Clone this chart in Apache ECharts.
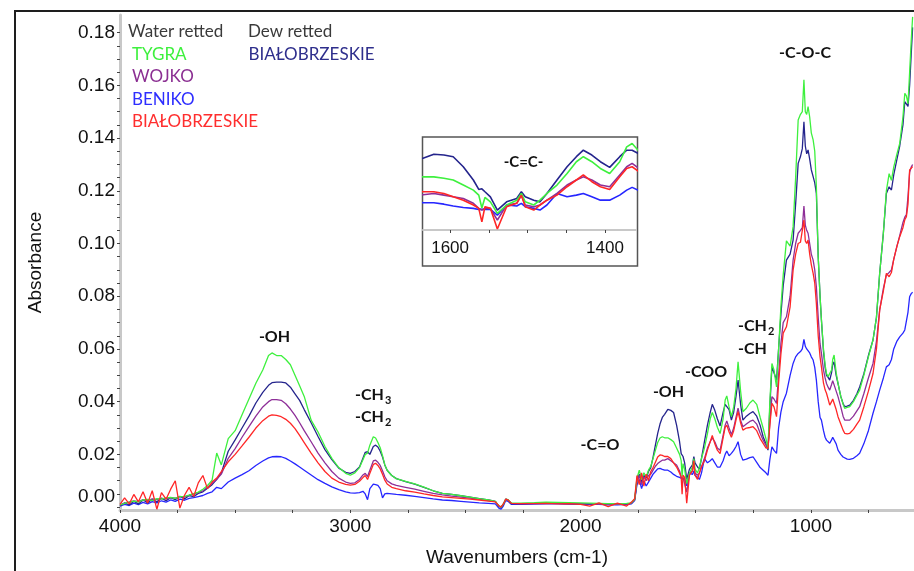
<!DOCTYPE html>
<html><head><meta charset="utf-8">
<script src="https://cdn.jsdelivr.net/npm/echarts@6/dist/echarts.min.js"></script>
<style>html,body{margin:0;padding:0;background:#fff}#c{width:914px;height:571px}</style>
</head><body><div id="c"></div>
<script>
// ---------- DATA (wavenumber grid, cm-1, descending) ----------
const wavenumbers = [
 4000,3980,3960,3940,3920,3900,3880,3860,3840,3820,3800,3780,3760,3740,3720,3700,3680,3660,3640,3620,3600,3580,3560,
 3530,3500,3470,3440,3410,3380,3355,3340,3320,3300,3280,3260,3240,3220,3200,3170,3140,3110,3080,3050,3020,3000,
 2980,2960,2945,2935,2925,2915,2900,2890,2880,2870,2860,2850,2840,2820,2800,2760,2720,2680,2640,2600,
 2560,2520,2480,2440,2400,2370,2355,2345,2335,2325,2315,2300,2260,2200,2150,2100,2050,2000,1960,1920,1880,1840,1800,1780,1765,
 1755,1745,1735,1725,1715,1705,1695,1685,1675,1665,1655,1645,1635,
 1621,1608,1596,1583,1570,1563,1559,1555,1548,1539,1527,1514,1508,1503,1492,1484,1475,1462,1449,1437,1428,1417,1406,1394,1381,1372,1365,
 1355,1345,1335,1325,1316,1305,1295,1280,1265,1251,1235,1220,1207,1195,1186,1178,1169,1160,1149,1140,
 1130,1120,1106,1090,1077,1066,1055,1045,1037,1030,1024,1018,1012,1005,998,990,983,976,968,960,
 954,945,938,932,925,918,910,905,899,890,882,870,860,853,842,831,815,800,788,770,
 750,730,715,701,685,672,660,650,640,626,614,600,592,585,578,571,564,558
];

// Water retted TYGRA (green)
const tygra = [
 .0008,.0014,.0019,.0023,.0020,.0027,.0029,.0025,.0032,.0030,.0035,.0037,.0033,.0040,.0041,.0045,.0051,.0057,.0068,.0082,.0102,.0205,.0160,
 .0260,.0290,.0350,.0410,.0470,.0520,.0575,.0585,.0575,.0575,.0560,.0540,.0500,.0460,.0420,.0330,.0285,.0230,.0185,.0150,.0128,.0121,
 .0130,.0150,.0180,.0200,.0205,.0235,.0267,.0262,.0245,.0225,.0195,.0160,.0140,.0120,.0108,.0098,.0088,.0076,.0062,.0052,
 .0048,.0043,.0038,.0032,.0027,.0022,.0005,.0000,.0012,.0030,.0028,.0015,.0015,.0017,.0019,.0018,.0017,.0016,.0015,.0014,.0013,.0013,.0014,.0016,.0030,
 .0110,.0140,.0105,.0130,.0115,.0140,.0155,.0185,.0215,.0245,.0262,.0267,.0263,
 .0263,.0256,.0248,.0224,.0200,.0176,.0115,.0165,.0144,.0089,.0129,.0152,.0184,.0144,.0129,.0152,.0184,.0224,.0279,.0335,.0359,.0335,.0303,.0279,.0335,.0406,.0422,
 .0380,.0343,.0380,.0450,.0551,.0440,.0362,.0375,.0395,.0406,.0390,.0340,.0299,.0260,.0223,.0400,.0545,.0520,.0456,.0600,
 .0760,.0880,.1010,.0990,.1064,.1250,.1469,.1490,.1500,.1621,.1500,.1490,.1519,.1480,.1420,.1393,.1350,.1216,.0950,.0800,
 .0710,.0600,.0540,.0507,.0495,.0488,.0520,.0560,.0577,.0510,.0469,.0420,.0390,.0375,.0378,.0381,.0400,.0425,.0444,.0500,
 .0570,.0634,.0720,.0887,.1040,.1200,.1265,.1240,.1290,.1340,.1380,.1480,.1570,.1560,.1530,.1650,.1770,.1860
];

// Dew retted BIAŁOBRZESKIE (navy)
const bialDew = [
 .0005,.0016,.0008,.0022,.0012,.0027,.0017,.0030,.0020,.0034,.0024,.0036,.0028,.0041,.0031,.0044,.0040,.0052,.0058,.0072,.0085,.0105,.0130,
 .0212,.0255,.0300,.0345,.0395,.0435,.0462,.0472,.0474,.0474,.0471,.0455,.0430,.0405,.0370,.0320,.0268,.0218,.0180,.0148,.0132,.0128,
 .0135,.0152,.0185,.0208,.0210,.0200,.0230,.0235,.0228,.0212,.0190,.0160,.0140,.0120,.0108,.0097,.0087,.0075,.0062,.0052,
 .0048,.0043,.0038,.0032,.0027,.0022,.0003,-.0002,.0010,.0030,.0026,.0013,.0013,.0014,.0015,.0014,.0013,.0012,.0012,.0011,.0011,.0011,.0012,.0014,.0028,
 .0100,.0125,.0095,.0120,.0110,.0135,.0150,.0190,.0235,.0280,.0315,.0340,.0352,
 .0371,.0367,.0359,.0311,.0248,.0203,.0206,.0192,.0168,.0105,.0144,.0160,.0192,.0168,.0152,.0144,.0184,.0248,.0311,.0359,.0390,.0367,.0335,.0308,.0359,.0390,.0390,
 .0370,.0330,.0360,.0420,.0482,.0390,.0330,.0345,.0355,.0362,.0345,.0310,.0267,.0240,.0216,.0380,.0532,.0510,.0482,.0600,
 .0730,.0840,.0937,.0960,.1013,.1150,.1304,.1330,.1360,.1462,.1370,.1340,.1355,.1320,.1280,.1254,.1230,.1190,.0950,.0800,
 .0710,.0590,.0530,.0500,.0492,.0482,.0510,.0540,.0551,.0500,.0469,.0420,.0393,.0381,.0383,.0387,.0405,.0430,.0456,.0505,
 .0575,.0634,.0720,.0887,.1040,.1190,.1215,.1203,.1260,.1320,.1370,.1450,.1538,.1540,.1520,.1600,.1720,.1820
];

// Water retted WOJKO (purple)
const wojko = [
 .0007,.0015,.0019,.0024,.0021,.0028,.0025,.0031,.0028,.0033,.0031,.0036,.0034,.0040,.0038,.0045,.0050,.0055,.0062,.0075,.0090,.0105,.0125,
 .0185,.0222,.0265,.0305,.0345,.0380,.0400,.0408,.0408,.0405,.0392,.0372,.0348,.0320,.0290,.0248,.0205,.0168,.0135,.0110,.0095,.0090,
 .0092,.0105,.0122,.0128,.0116,.0140,.0175,.0178,.0170,.0158,.0138,.0115,.0100,.0088,.0082,.0075,.0068,.0060,.0052,.0046,
 .0042,.0038,.0034,.0030,.0025,.0021,.0004,.0000,.0012,.0030,.0027,.0014,.0013,.0014,.0014,.0014,.0013,.0012,.0012,.0010,.0010,.0010,.0011,.0014,.0028,
 .0095,.0120,.0085,.0115,.0100,.0120,.0125,.0140,.0155,.0165,.0172,.0178,.0178,
 .0184,.0176,.0168,.0160,.0137,.0113,.0105,.0113,.0113,.0057,.0129,.0137,.0176,.0129,.0121,.0129,.0152,.0184,.0224,.0248,.0263,.0248,.0224,.0216,.0272,.0311,.0327,
 .0300,.0275,.0300,.0340,.0375,.0330,.0305,.0315,.0325,.0330,.0315,.0280,.0254,.0235,.0223,.0320,.0419,.0410,.0393,.0500,
 .0620,.0700,.0722,.0800,.0937,.1000,.1039,.1050,.1060,.1142,.1070,.1050,.1039,.1000,.0960,.0937,.0900,.0836,.0720,.0620,
 .0583,.0520,.0490,.0469,.0455,.0444,.0465,.0480,.0482,.0440,.0419,.0380,.0345,.0330,.0330,.0330,.0345,.0365,.0381,.0430,
 .0490,.0545,.0630,.0748,.0830,.0880,.0890,.0900,.0940,.0990,.1030,.1080,.1100,.1110,.1180,.1270,.1290,.1300
];

// Water retted BENIKO (blue)
const beniko = [
 .0004,.0010,.0006,.0015,.0009,.0018,.0012,.0021,.0016,.0024,.0019,.0027,.0022,.0030,.0026,.0033,.0036,.0040,.0044,.0052,.0058,.0075,.0070,
 .0095,.0110,.0123,.0138,.0158,.0175,.0187,.0191,.0192,.0191,.0185,.0175,.0164,.0152,.0140,.0122,.0104,.0090,.0077,.0066,.0058,.0054,
 .0053,.0055,.0060,.0050,.0028,.0070,.0087,.0085,.0082,.0070,.0035,.0050,.0052,.0050,.0048,.0045,.0041,.0036,.0031,.0027,
 .0025,.0022,.0019,.0016,.0014,.0012,-.0004,-.0008,.0005,.0025,.0022,.0010,.0010,.0011,.0012,.0012,.0011,.0011,.0010,.0010,.0009,.0009,.0010,.0012,.0025,
 .0085,.0105,.0070,.0100,.0080,.0095,.0110,.0125,.0135,.0145,.0147,.0143,.0140,
 .0140,.0133,.0124,.0117,.0113,.0108,.0108,.0108,.0108,.0081,.0129,.0124,.0137,.0121,.0113,.0105,.0129,.0184,.0168,.0176,.0184,.0168,.0152,.0152,.0176,.0200,.0213,
 .0195,.0204,.0215,.0230,.0248,.0200,.0178,.0182,.0188,.0191,.0170,.0150,.0140,.0130,.0121,.0180,.0229,.0215,.0204,.0300,
 .0360,.0400,.0432,.0500,.0545,.0570,.0583,.0590,.0600,.0636,.0610,.0600,.0596,.0585,.0570,.0558,.0530,.0482,.0400,.0340,
 .0330,.0290,.0265,.0254,.0248,.0242,.0255,.0265,.0269,.0240,.0216,.0200,.0190,.0185,.0182,.0181,.0185,.0195,.0204,.0240,
 .0290,.0356,.0400,.0444,.0490,.0532,.0540,.0560,.0600,.0630,.0646,.0660,.0672,.0672,.0740,.0798,.0810,.0815
];

// Water retted BIAŁOBRZESKIE (red)
const bialWater = [
 .0010,.0035,.0012,.0048,.0020,.0058,.0015,.0062,-.0008,.0055,.0030,.0068,.0100,-.0004,.0045,.0075,.0040,.0092,.0120,.0070,.0095,.0110,.0135,
 .0172,.0200,.0232,.0265,.0300,.0328,.0345,.0350,.0348,.0343,.0333,.0318,.0298,.0272,.0245,.0205,.0168,.0135,.0110,.0095,.0086,.0083,
 .0086,.0098,.0112,.0120,.0105,.0128,.0162,.0166,.0158,.0145,.0125,.0102,.0088,.0075,.0070,.0062,.0057,.0050,.0044,.0039,
 .0036,.0033,.0030,.0027,.0023,.0020,.0005,.0001,.0012,.0030,.0027,.0014,.0013,.0013,.0014,.0012,.0013,.0010,.0004,.0016,.0002,.0015,.0004,.0018,.0032,
 .0120,.0085,.0130,.0080,.0125,.0100,.0135,.0150,.0170,.0190,.0198,.0196,.0192,
 .0192,.0184,.0168,.0152,.0129,.0113,.0049,.0121,.0113,.0015,.0121,.0137,.0176,.0121,.0105,.0129,.0152,.0176,.0216,.0248,.0272,.0240,.0216,.0203,.0263,.0303,.0311,
 .0285,.0265,.0290,.0330,.0362,.0320,.0292,.0300,.0302,.0305,.0290,.0260,.0242,.0225,.0223,.0310,.0394,.0380,.0343,.0470,
 .0580,.0660,.0684,.0760,.0899,.0960,.1000,.1005,.1010,.1089,.1010,.1000,.1013,.0960,.0920,.0887,.0850,.0773,.0650,.0570,
 .0532,.0470,.0445,.0432,.0410,.0387,.0400,.0410,.0412,.0370,.0343,.0315,.0292,.0280,.0278,.0280,.0295,.0315,.0330,.0380,
 .0440,.0507,.0600,.0748,.0820,.0887,.0874,.0890,.0940,.0990,.1026,.1060,.1090,.1102,.1150,.1279,.1285,.1292
];

const xTickLabels = [4000, 3000, 2000, 1000];
const xTicks = [4000,3750,3500,3250,3000,2750,2500,2250,2000,1750,1500,1250,1000,750];
const yTickLabels = [0, 0.02, 0.04, 0.06, 0.08, 0.10, 0.12, 0.14, 0.16, 0.18];
const insetTickLabels = [1600, 1400];
const insetTicks = [1600, 1550, 1500, 1450, 1400];

const legendWater = 'Water retted';
const legendDew = 'Dew retted';
// ---------------------------------------------------------------

const yTicks = [];
for (let i = 0; i <= 36; i++) yTicks.push(+(i * 0.005).toFixed(3));

[tygra, bialDew, wojko, beniko, bialWater].forEach((a, i) => {
  if (a.length !== wavenumbers.length) console.error('length mismatch series ' + i + ': ' + a.length + ' vs ' + wavenumbers.length);
});

const pairs = vals => wavenumbers.map((w, i) => [w, vals[i]]);
const defs = [
  { name: 'BENIKO', vals: beniko, color: '#2626ff' },
  { name: 'BIAŁOBRZESKIE dew', vals: bialDew, color: '#24248c' },
  { name: 'WOJKO', vals: wojko, color: '#8e2f98' },
  { name: 'TYGRA', vals: tygra, color: '#3ef03e' },
  { name: 'BIAŁOBRZESKIE water', vals: bialWater, color: '#ff2626' }
];

const AX = 'Liberation Sans, Arial, sans-serif';
const series = [];
defs.forEach(d => {
  series.push({ type: 'line', name: d.name, xAxisIndex: 0, yAxisIndex: 0, data: pairs(d.vals),
    symbol: 'none', showSymbol: false, clip: true, silent: true,
    lineStyle: { color: d.color, width: 1.3 } });
});
defs.forEach(d => {
  series.push({ type: 'line', name: d.name + ' inset', xAxisIndex: 1, yAxisIndex: 1, data: pairs(d.vals),
    symbol: 'none', showSymbol: false, clip: true, silent: true, z: 5,
    lineStyle: { color: d.color, width: 1.6 } });
});

function txt(x, y, s, font, fill, align) {
  return { type: 'text', x: x, y: y, z: 10, silent: true,
    style: { text: s, font: font, fill: fill, align: align || 'left', verticalAlign: 'middle',
             textAlign: align || 'left', textVerticalAlign: 'middle' } };
}
const LEG = '17px Lato, sans-serif';
const ANN = 'bold 16px Lato, sans-serif';
const SUB = 'bold 11px Lato, sans-serif';
const plain = v => String(Math.round(v));

const chart = echarts.init(document.getElementById('c'), null, { renderer: 'canvas' });
chart.setOption({
  animation: false,
  backgroundColor: '#ffffff',
  grid: [
    { left: 120, right: 0, top: 15, bottom: 61, outerBoundsMode: 'none' },
    { left: 423, top: 138, width: 213, height: 92, outerBoundsMode: 'none' }
  ],
  xAxis: [
    { type: 'value', gridIndex: 0, min: 552, max: 4000, inverse: true,
      name: 'Wavenumbers (cm-1)', nameLocation: 'middle', nameGap: 38,
      nameTextStyle: { fontFamily: AX, fontSize: 19, color: '#111' },
      axisLine: { show: true, onZero: false, lineStyle: { color: '#c8c8c8', width: 3 } },
      axisTick: { show: true, customValues: xTicks, length: 3, lineStyle: { color: '#444', width: 1 } },
      axisLabel: { customValues: xTickLabels, formatter: plain, fontFamily: AX, fontSize: 19, color: '#111', margin: 7 },
      splitLine: { show: false } },
    { type: 'value', gridIndex: 1, min: 1360, max: 1635, inverse: true,
      axisLine: { show: true, onZero: false, lineStyle: { color: '#c8c8c8', width: 2 } },
      axisTick: { show: true, customValues: insetTicks, length: 3, lineStyle: { color: '#444', width: 1 } },
      axisLabel: { customValues: insetTickLabels, formatter: plain, fontFamily: AX, fontSize: 17, color: '#111', margin: 10 },
      splitLine: { show: false } }
  ],
  yAxis: [
    { type: 'value', gridIndex: 0, min: -0.0011, max: 0.1867,
      name: 'Absorbance', nameLocation: 'middle', nameGap: 75,
      nameTextStyle: { fontFamily: AX, fontSize: 19, color: '#111' },
      axisLine: { show: true, onZero: false, lineStyle: { color: '#c8c8c8', width: 3 } },
      axisTick: { show: true, customValues: yTicks, length: 3, lineStyle: { color: '#444', width: 1 } },
      axisLabel: { customValues: yTickLabels, fontFamily: AX, fontSize: 19, color: '#111', margin: 5,
        formatter: v => (Math.abs(v) < 1e-9 ? '{z|0.00}' : v.toFixed(2)),
        rich: { z: { fontFamily: AX, fontSize: 19, color: '#111', padding: [0, 0, 20, 0] } } },
      splitLine: { show: false } },
    { type: 'value', gridIndex: 1, min: 0.001, max: 0.0448, show: false,
      axisLine: { show: false }, axisTick: { show: false }, axisLabel: { show: false }, splitLine: { show: false } }
  ],
  graphic: [
    { type: 'rect', z: -1, silent: true, shape: { x: 15, y: 11, width: 1400, height: 1000 },
      style: { fill: 'transparent', stroke: '#1e1e1e', lineWidth: 2 } },
    { type: 'rect', z: -1, silent: true, shape: { x: 422.5, y: 137, width: 215, height: 129 },
      style: { fill: '#ffffff', stroke: '#555555', lineWidth: 1.5 } },
    txt(128, 32, legendWater, LEG, '#3a3a3a'),
    txt(248, 32, legendDew, LEG, '#3a3a3a'),
    txt(132, 54.5, 'TYGRA', LEG, '#3df03d'),
    txt(132, 77, 'WOJKO', LEG, '#8b2f92'),
    txt(132, 99.5, 'BENIKO', LEG, '#2e2eff'),
    txt(132, 122, 'BIAŁOBRZESKIE', LEG, '#ff2e2e'),
    txt(248.5, 54.5, 'BIAŁOBRZESKIE', LEG, '#2e2e8c'),
    txt(274.5, 337, '-OH', ANN, '#111', 'center'),
    txt(355, 395, '-CH', ANN, '#111'),
    txt(385, 400, '3', SUB, '#111'),
    txt(355, 417, '-CH', ANN, '#111'),
    txt(385, 422, '2', SUB, '#111'),
    txt(600, 445, '-C=O', ANN, '#111', 'center'),
    txt(668.5, 392, '-OH', ANN, '#111', 'center'),
    txt(706, 372, '-COO', ANN, '#111', 'center'),
    txt(738, 326, '-CH', ANN, '#111'),
    txt(768, 331, '2', SUB, '#111'),
    txt(738, 348.5, '-CH', ANN, '#111'),
    txt(805, 53, '-C-O-C', ANN, '#111', 'center'),
    txt(523.5, 162, '-C=C-', 'bold 15px Lato, sans-serif', '#111', 'center')
  ],
  series: series
});
</script>
</body></html>
